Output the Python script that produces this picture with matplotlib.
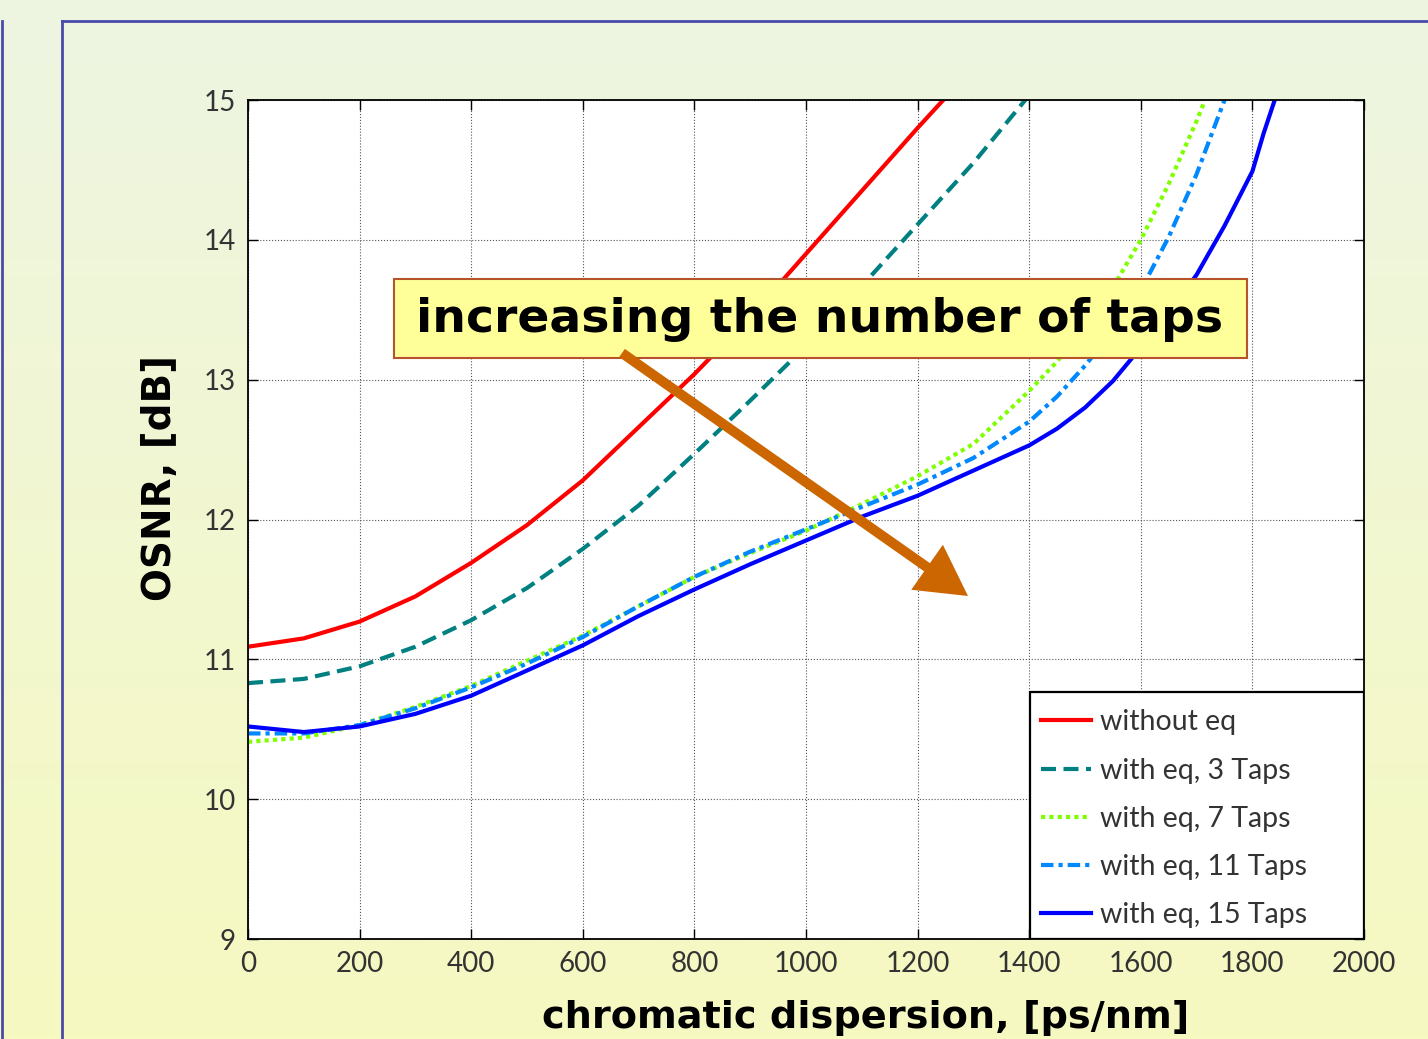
import matplotlib
matplotlib.use('Agg')
import matplotlib.pyplot as plt
import numpy as np
from matplotlib.patches import FancyArrowPatch, Rectangle
from matplotlib.lines import Line2D

# OSNR [dB] vs chromatic dispersion [ps/nm]
cd_noeq = [0, 100, 200, 300, 400, 500, 600, 700, 800, 900, 1000, 1100, 1200, 1246]
osnr_noeq = [11.09, 11.15, 11.27, 11.45, 11.69, 11.96, 12.28, 12.66, 13.04, 13.45,
             13.90, 14.35, 14.80, 15.0]

cd_3 = [0, 100, 200, 300, 400, 500, 600, 700, 800, 900, 1000, 1100, 1200, 1300, 1393]
osnr_3 = [10.83, 10.86, 10.95, 11.09, 11.28, 11.51, 11.79, 12.10, 12.47, 12.85,
          13.24, 13.67, 14.11, 14.55, 15.0]

cd_7 = [0, 100, 200, 300, 400, 500, 600, 700, 800, 900, 1000, 1100, 1200, 1300,
        1400, 1450, 1500, 1550, 1600, 1650, 1700, 1715]
osnr_7 = [10.41, 10.44, 10.53, 10.66, 10.81, 10.99, 11.17, 11.38, 11.59, 11.76,
          11.92, 12.11, 12.31, 12.54, 12.92, 13.13, 13.38, 13.66, 14.0, 14.40, 14.85, 15.0]

cd_11 = [0, 100, 200, 300, 400, 500, 600, 700, 800, 900, 1000, 1100, 1200, 1300,
         1400, 1450, 1500, 1550, 1600, 1650, 1700, 1750]
osnr_11 = [10.47, 10.47, 10.53, 10.65, 10.80, 10.97, 11.16, 11.38, 11.59, 11.77,
           11.93, 12.09, 12.25, 12.44, 12.70, 12.88, 13.10, 13.35, 13.64, 14.02, 14.47, 15.0]

cd_15 = [0, 100, 200, 300, 400, 500, 600, 700, 800, 900, 1000, 1100, 1200, 1300,
         1400, 1450, 1500, 1550, 1600, 1650, 1700, 1750, 1800, 1820, 1840]
osnr_15 = [10.52, 10.48, 10.52, 10.61, 10.74, 10.92, 11.10, 11.31, 11.50, 11.68,
           11.85, 12.02, 12.17, 12.35, 12.53, 12.65, 12.80, 12.99, 13.23, 13.48, 13.75,
           14.10, 14.49, 14.76, 15.0]

labels = ['without eq', 'with eq, 3 Taps', 'with eq, 7 Taps',
          'with eq, 11 Taps', 'with eq, 15 Taps']
xticks = [0, 200, 400, 600, 800, 1000, 1200, 1400, 1600, 1800, 2000]
yticks = [9, 10, 11, 12, 13, 14, 15]

W, H = 1428, 1039
fig = plt.figure(figsize=(W / 100, H / 100), dpi=100)

# slide background: green -> yellow gradient
bg = fig.add_axes([0, 0, 1, 1], zorder=-10)
top = np.array([237, 245, 226]) / 255
bot = np.array([246, 249, 192]) / 255
t = np.linspace(0, 1, 256)[:, None]
grad = (top[None, :] * (1 - t) + bot[None, :] * t)[:, None, :]
bg.imshow(grad, aspect='auto', extent=[0, 1, 0, 1])
bg.set_xlim(0, 1)
bg.set_ylim(0, 1)
bg.axis('off')

# frame lines of the slide
fc = '#4a4aa8'
fig.add_artist(Line2D([62 / W, 62 / W], [0, 1 - 21 / H], color=fc, lw=2, transform=fig.transFigure))
fig.add_artist(Line2D([62 / W, 1], [1 - 21 / H, 1 - 21 / H], color=fc, lw=2, transform=fig.transFigure))
fig.add_artist(Line2D([1.5 / W, 1.5 / W], [0, 1 - 21 / H], color=fc, lw=2, transform=fig.transFigure))

ax = fig.add_axes([248 / W, 1 - 939 / H, (1364 - 248) / W, (939 - 100) / H])
ax.set_facecolor('white')

lw = 3.0
ax.plot(cd_noeq, osnr_noeq, color='#ff0000', lw=lw, ls='-', label=labels[0])
ax.plot(cd_3, osnr_3, color='#008080', lw=lw, ls=(0, (3.6, 1.8)), label=labels[1])
ax.plot(cd_7, osnr_7, color='#80ff00', lw=lw, ls=(0, (1, 1)), dash_capstyle='butt', label=labels[2])
ax.plot(cd_11, osnr_11, color='#0088ff', lw=lw, ls=(0, (3, 1.2, 1, 1.2)), label=labels[3])
ax.plot(cd_15, osnr_15, color='#0000ff', lw=lw, ls='-', label=labels[4])

ax.set_xlim(0, 2000)
ax.set_ylim(9, 15)
ax.set_xticks(xticks)
ax.set_yticks(yticks)
ax.grid(True, color='#555555', ls=':', lw=0.8)
ax.tick_params(direction='in', top=True, right=True, length=7, width=1,
               labelsize=20, labelcolor='#333333', pad=9)
for lab in ax.get_xticklabels() + ax.get_yticklabels():
    lab.set_family('Lato')
for s in ax.spines.values():
    s.set_linewidth(1.3)

# legend box (MATLAB style: wide box in the lower right corner)
lx0 = (1030 - 248) / 1116
lh = (939 - 692) / 839
ax.add_patch(Rectangle((lx0, 0), 1 - lx0, lh, transform=ax.transAxes, facecolor='white',
                       edgecolor='black', lw=1.6, zorder=8))
leg = ax.legend(loc='upper left', bbox_to_anchor=(lx0, lh - 6 / 839), borderaxespad=0,
                frameon=False, prop={'family': 'Lato', 'size': 20.5}, handlelength=1.75,
                handletextpad=0.3, labelspacing=0.78, borderpad=0.4)
leg.set_zorder(9)
for txt in leg.get_texts():
    txt.set_color('#333333')

fig.text(866 / W, 1 - 1018 / H, 'chromatic dispersion, [ps/nm]', ha='center', va='center',
         fontsize=27.5, fontweight='bold', family='DejaVu Sans')
fig.text(160 / W, 1 - 478 / H, 'OSNR, [dB]', ha='center', va='center', rotation=90,
         fontsize=28, fontweight='bold', family='DejaVu Sans')

# annotation box and arrow
fig.add_artist(Rectangle((394 / W, 1 - 358 / H), (1247 - 394) / W, (358 - 279) / H,
                         transform=fig.transFigure, facecolor='#ffff99',
                         edgecolor='#b5542a', lw=1.5, zorder=5))
fig.text(820 / W, 1 - 319 / H, 'increasing the number of taps', ha='center', va='center',
         fontsize=34, fontweight='bold', family='DejaVu Sans', zorder=6)
arr = FancyArrowPatch((622, H - 353), (968, H - 596), transform=None,
                      arrowstyle='simple,head_length=1.0,head_width=1.1,tail_width=0.2',
                      mutation_scale=36, color='#cc6600', lw=0, shrinkA=0, shrinkB=0,
                      zorder=7)
fig.add_artist(arr)

fig.savefig('out.png', dpi=100)
